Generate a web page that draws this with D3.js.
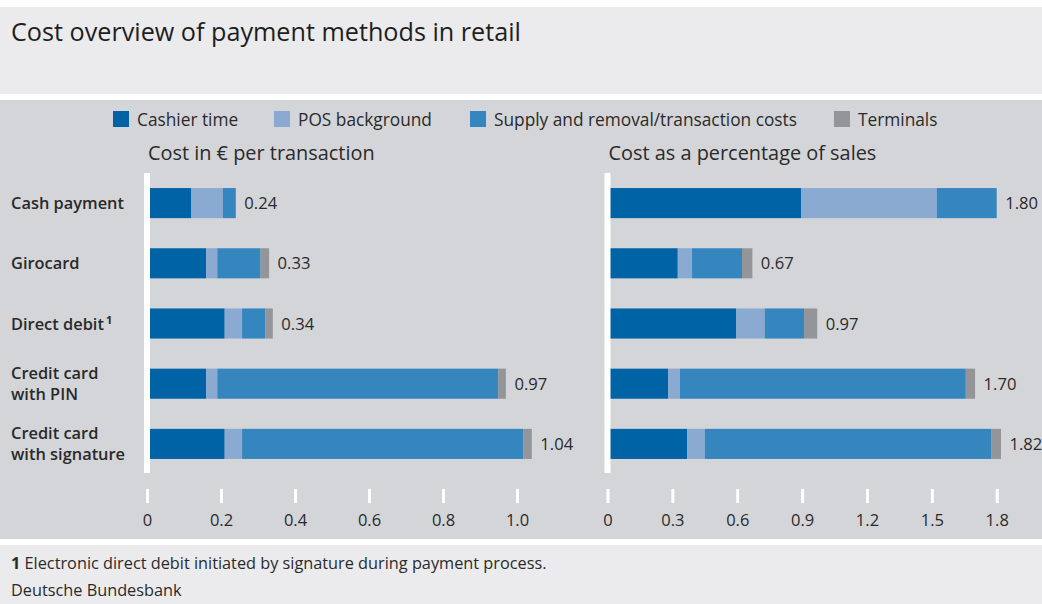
<!DOCTYPE html>
<html>
<head>
<meta charset="utf-8">
<script src="https://cdn.jsdelivr.net/npm/d3@7"></script>
<style>
  html, body { margin: 0; padding: 0; background: #ffffff; }
  svg { display: block; font-family: "Open Sans", "Noto Sans", sans-serif; }
</style>
</head>
<body>
<svg id="chart" width="1042" height="604"></svg>
<script>
// ---- Data ----
const categories = ["Cash payment", "Girocard", "Direct debit", "Credit card with PIN", "Credit card with signature"];
const categoryLines = [["Cash payment"], ["Girocard"], ["Direct debit"], ["Credit card", "with PIN"], ["Credit card", "with signature"]];
const seriesNames = ["Cashier time", "POS background", "Supply and removal/transaction costs", "Terminals"];

// Cost in € per transaction
const eurCashier  = [0.12, 0.16, 0.21, 0.16, 0.21];
const eurPOS      = [0.085, 0.03, 0.047, 0.03, 0.047];
const eurSupply   = [0.035, 0.117, 0.063, 0.759, 0.76];
const eurTerminal = [0, 0.023, 0.02, 0.021, 0.023];
const eurTotals   = ["0.24", "0.33", "0.34", "0.97", "1.04"];

// Cost as a percentage of sales
const pctCashier  = [0.895, 0.325, 0.596, 0.28, 0.368];
const pctPOS      = [0.628, 0.066, 0.131, 0.055, 0.082];
const pctSupply   = [0.277, 0.231, 0.182, 1.322, 1.326];
const pctTerminal = [0, 0.048, 0.061, 0.043, 0.044];
const pctTotals   = ["1.80", "0.67", "0.97", "1.70", "1.82"];

const eurTicks = [0, 0.2, 0.4, 0.6, 0.8, 1.0];
const eurTickLabels = ["0", "0.2", "0.4", "0.6", "0.8", "1.0"];
const pctTicks = [0, 0.3, 0.6, 0.9, 1.2, 1.5, 1.8];
const pctTickLabels = ["0", "0.3", "0.6", "0.9", "1.2", "1.5", "1.8"];

const colors = ["#0063a6", "#8aaad2", "#3585bf", "#939598"];

// ---- Layout ----
const svg = d3.select("#chart");
const textColor = "#2a2a2a";

svg.append("rect").attr("x", 0).attr("y", 7).attr("width", 1042).attr("height", 87).attr("fill", "#ebebed");
svg.append("rect").attr("x", 0).attr("y", 100).attr("width", 1042).attr("height", 439).attr("fill", "#d4d5d8");
svg.append("rect").attr("x", 0).attr("y", 545).attr("width", 1042).attr("height", 59).attr("fill", "#ebebed");

svg.append("text").attr("x", 11).attr("y", 41)
  .attr("font-size", 25.2).attr("fill", "#1e1e1e")
  .text("Cost overview of payment methods in retail");

// Legend
const legendX = [113, 274, 470, 834];
const legend = svg.append("g");
seriesNames.forEach((s, i) => {
  legend.append("rect").attr("x", legendX[i]).attr("y", 111).attr("width", 16).attr("height", 16).attr("fill", colors[i]);
  legend.append("text").attr("x", legendX[i] + 24).attr("y", 125.5)
    .attr("font-size", 17.3).attr("fill", textColor).text(s);
});

// Category labels
const y = d3.scaleBand().domain(categories).range([173, 474]).paddingInner(0.5).paddingOuter(0.25);
categories.forEach((c, i) => {
  const lines = categoryLines[i];
  const cy = y(c) + y.bandwidth() / 2;
  const lh = 21;
  lines.forEach((l, j) => {
    const t = svg.append("text").attr("x", 11)
      .attr("y", cy + 6 + (j - (lines.length - 1) / 2) * lh)
      .attr("font-size", 16.4).attr("font-weight", 600).attr("fill", textColor)
      .text(l);
    if (c === "Direct debit") {
      t.append("tspan").attr("dx", 2).attr("dy", -6).attr("font-size", 11).attr("font-weight", 700).text("1");
    }
  });
});

function panel(xRange, domainMax, title, cashier, pos, supply, terminal, totals, ticks, tickLabels) {
  const x = d3.scaleLinear().domain([0, domainMax]).range(xRange);
  const g = svg.append("g");
  g.append("text").attr("x", xRange[0] + 1).attr("y", 160).attr("font-size", 19.9).attr("fill", textColor).text(title);

  const rows = categories.map((c, i) => ({ c, vals: [cashier[i], pos[i], supply[i], terminal[i]], total: totals[i] }));
  const stackData = rows.map(r => {
    let acc = 0;
    return r.vals.map((v, k) => { const s = { c: r.c, k, x0: acc, x1: acc + v }; acc += v; return s; });
  });
  stackData.forEach(segs => {
    g.selectAll(null).data(segs.filter(s => s.x1 > s.x0)).enter().append("rect")
      .attr("x", d => x(d.x0)).attr("width", d => x(d.x1) - x(d.x0))
      .attr("y", d => y(d.c)).attr("height", y.bandwidth())
      .attr("fill", d => colors[d.k]);
  });
  rows.forEach((r, i) => {
    const end = stackData[i][3].x1;
    g.append("text").attr("x", x(end) + 8.5).attr("y", y(r.c) + y.bandwidth() / 2 + 6)
      .attr("font-size", 16.6).attr("fill", textColor).text(r.total);
  });

  // vertical zero line
  g.append("rect").attr("x", x(0) - 3).attr("y", 173).attr("width", 6).attr("height", 300).attr("fill", "#ffffff");

  const axis = d3.axisBottom(x).tickValues(ticks).tickSize(14).tickPadding(11)
    .tickFormat((d, i) => tickLabels[i]);
  const ag = g.append("g").attr("transform", "translate(0,489)").call(axis);
  ag.select(".domain").remove();
  ag.selectAll(".tick line").attr("stroke", "#ffffff").attr("stroke-width", 3);
  ag.selectAll(".tick text").attr("font-size", 16.5).attr("fill", textColor)
    .attr("font-family", "'Open Sans', 'Noto Sans', sans-serif");
}

panel([147, 517], 1.0, "Cost in € per transaction", eurCashier, eurPOS, eurSupply, eurTerminal, eurTotals, eurTicks, eurTickLabels);
panel([607.5, 996.7], 1.8, "Cost as a percentage of sales", pctCashier, pctPOS, pctSupply, pctTerminal, pctTotals, pctTicks, pctTickLabels);

// Footer
const f1 = svg.append("text").attr("x", 11).attr("y", 569).attr("font-size", 16.3).attr("fill", textColor);
f1.append("tspan").attr("font-weight", 700).text("1");
f1.append("tspan").text(" Electronic direct debit initiated by signature during payment process.");
svg.append("text").attr("x", 11).attr("y", 596).attr("font-size", 16.3).attr("fill", textColor).text("Deutsche Bundesbank");
</script>
</body>
</html>
